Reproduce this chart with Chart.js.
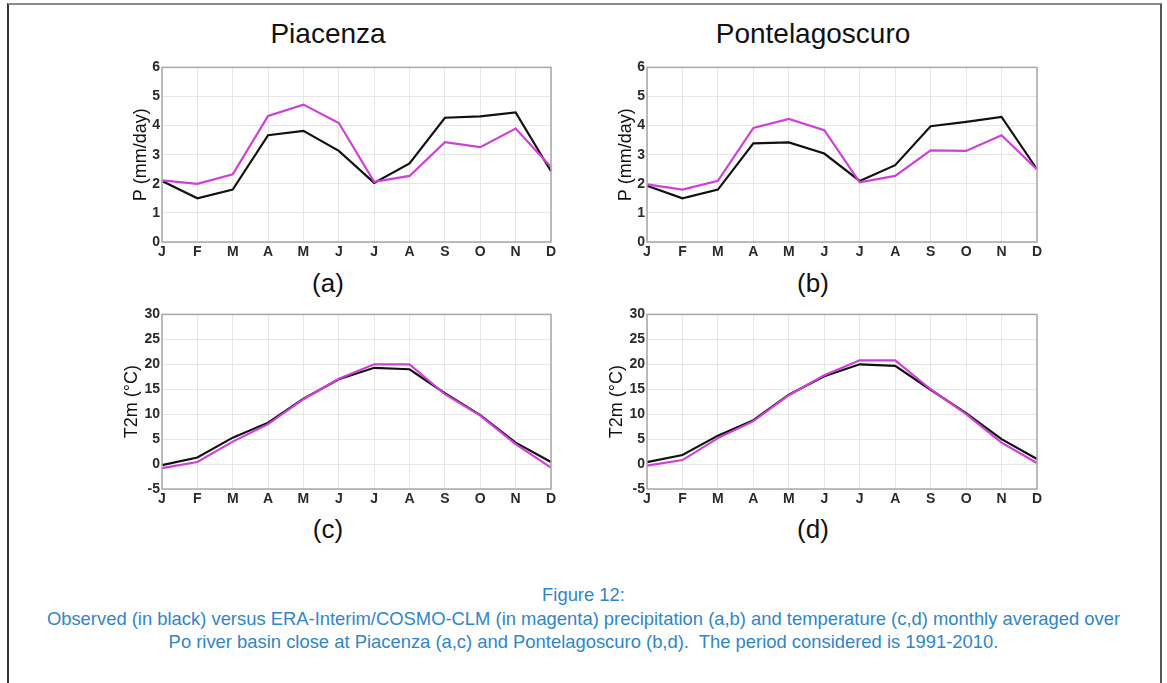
<!DOCTYPE html>
<html>
<head>
<meta charset="utf-8">
<script src="https://cdn.jsdelivr.net/npm/chart.js@4.4.1/dist/chart.umd.min.js"></script>
<style>
    body {
        margin: 0;
        width: 1167px;
        height: 683px;
        background: #ffffff;
        position: relative;
        overflow: hidden;
        font-family: "Liberation Sans", Arial, sans-serif;
    }

    .frame {
        position: absolute;
        left: 7px;
        top: 3px;
        width: 1151px;
        height: 700px;
        border-left: 2px solid #333333;
        border-right: 2px solid #555555;
        border-top: 2px solid #8a8a8a;
    }

    .box {
        position: absolute;
    }

    .title {
        position: absolute;
        width: 300px;
        text-align: center;
        font-size: 28px;
        color: #111111;
    }

    .tag {
        position: absolute;
        width: 100px;
        text-align: center;
        font-size: 26px;
        color: #111111;
    }

    .caption {
        position: absolute;
        left: 0;
        width: 1167px;
        top: 583px;
        text-align: center;
        font-size: 18.4px;
        line-height: 23.5px;
        color: #2f86c8;
    }
</style>
</head>
<body>

<div class="frame"></div>

<div class="title" style="left:178px; top:18px;">Piacenza</div>
<div class="title" style="left:663px; top:18px;">Pontelagoscuro</div>

<div class="box" style="left:100px; top:57px; width:460px; height:210px;"><canvas id="chartA"></canvas></div>
<div class="box" style="left:585px; top:57px; width:461px; height:210px;"><canvas id="chartB"></canvas></div>
<div class="box" style="left:100px; top:304px; width:460px; height:210px;"><canvas id="chartC"></canvas></div>
<div class="box" style="left:585px; top:304px; width:461px; height:210px;"><canvas id="chartD"></canvas></div>

<div class="tag" style="left:278px; top:268px;">(a)</div>
<div class="tag" style="left:763px; top:268px;">(b)</div>
<div class="tag" style="left:278px; top:514px;">(c)</div>
<div class="tag" style="left:763px; top:514px;">(d)</div>

<div class="caption">
    Figure 12:<br>
    Observed (in black) versus ERA-Interim/COSMO-CLM (in magenta) precipitation (a,b) and temperature (c,d) monthly averaged over<br>
    Po river basin close at Piacenza (a,c) and Pontelagoscuro (b,d).&nbsp; The period considered is 1991-2010.
</div>

<script>
/* =========================
   DATA
========================= */

const months = ["J", "F", "M", "A", "M", "J", "J", "A", "S", "O", "N", "D"];

// precipitation (mm/day)
const piacenzaObsP = [2.1, 1.5, 1.8, 3.67, 3.82, 3.13, 2.03, 2.7, 4.27, 4.32, 4.45, 2.43];
const piacenzaModP = [2.12, 2.0, 2.33, 4.33, 4.72, 4.09, 2.07, 2.27, 3.43, 3.26, 3.9, 2.58];

const pontelagoscuroObsP = [1.93, 1.5, 1.8, 3.39, 3.42, 3.04, 2.1, 2.64, 3.98, 4.13, 4.3, 2.5];
const pontelagoscuroModP = [1.98, 1.8, 2.1, 3.92, 4.23, 3.84, 2.05, 2.27, 3.15, 3.13, 3.67, 2.49];

// 2 m temperature (°C)
const piacenzaObsT = [-0.2, 1.3, 5.3, 8.3, 13.1, 17.0, 19.3, 19.0, 14.2, 9.8, 4.3, 0.4];
const piacenzaModT = [-0.8, 0.4, 4.5, 8.0, 13.0, 17.1, 20.0, 20.0, 14.0, 9.7, 4.0, -0.7];

const pontelagoscuroObsT = [0.4, 1.8, 5.7, 8.8, 13.9, 17.6, 20.0, 19.7, 14.9, 10.2, 5.0, 1.0];
const pontelagoscuroModT = [-0.3, 0.8, 5.2, 8.6, 13.8, 17.8, 20.8, 20.8, 15.0, 10.0, 4.3, 0.2];

const pTicks = { min: 0, max: 6, step: 1 };
const tTicks = { min: -5, max: 30, step: 5 };

/* =========================
   STYLE
========================= */

const obsColor = "#111111";
const modColor = "#d23ed8";
const gridColor = "#e6e6e6";
const boxColor = "#a8a8a8";
const tickFont = { family: "Liberation Sans, Arial, sans-serif", size: 14, weight: "bold" };

/* =========================
   BOX AROUND PLOT AREA
========================= */

const plotBox = {
    id: "plotBox",
    afterDraw(chart) {
        const a = chart.chartArea;
        const ctx = chart.ctx;
        ctx.save();
        ctx.strokeStyle = boxColor;
        ctx.lineWidth = 1.5;
        ctx.strokeRect(a.left, a.top, a.right - a.left, a.bottom - a.top);
        ctx.restore();
    }
};

/* =========================
   CREATE ONE PANEL
========================= */

function createPanel(id, obs, mod, range, yTitle, titlePad) {

    const ctx = document.getElementById(id);

    return new Chart(ctx, {

        type: "line",

        data: {
            labels: months,
            datasets: [
                {
                    data: mod,
                    borderColor: modColor,
                    borderWidth: 2.2,
                    pointRadius: 0,
                    tension: 0
                },
                {
                    data: obs,
                    borderColor: obsColor,
                    borderWidth: 2.2,
                    pointRadius: 0,
                    tension: 0
                }
            ]
        },

        options: {
            responsive: true,
            maintainAspectRatio: false,
            animation: false,
            events: [],
            layout: {
                padding: { top: 10, right: 9, left: 0, bottom: 0 }
            },
            plugins: {
                legend: { display: false },
                tooltip: { enabled: false }
            },
            scales: {
                x: {
                    offset: false,
                    grid: { color: gridColor, drawTicks: false },
                    border: { display: false },
                    ticks: {
                        color: "#2a2a2a",
                        font: tickFont,
                        padding: 2,
                        maxRotation: 0,
                        autoSkip: false
                    },
                    afterFit(scale) { scale.height = 25; }
                },
                y: {
                    min: range.min,
                    max: range.max,
                    grid: { color: gridColor, drawTicks: false },
                    border: { display: false },
                    ticks: {
                        stepSize: range.step,
                        color: "#2a2a2a",
                        font: tickFont,
                        padding: 2
                    },
                    title: {
                        display: true,
                        text: yTitle,
                        color: "#111111",
                        font: { family: "Liberation Sans, Arial, sans-serif", size: 18 },
                        padding: { top: titlePad, bottom: 0 }
                    },
                    afterFit(scale) { scale.width = 62; }
                }
            }
        },

        plugins: [plotBox]

    });

}

/* =========================
   INITIALIZE CHARTS
========================= */

createPanel("chartA", piacenzaObsP, piacenzaModP, pTicks, "P (mm/day)", 30);
createPanel("chartB", pontelagoscuroObsP, pontelagoscuroModP, pTicks, "P (mm/day)", 30);
createPanel("chartC", piacenzaObsT, piacenzaModT, tTicks, "T2m (°C)", 21);
createPanel("chartD", pontelagoscuroObsT, pontelagoscuroModT, tTicks, "T2m (°C)", 21);
</script>

</body>
</html>
